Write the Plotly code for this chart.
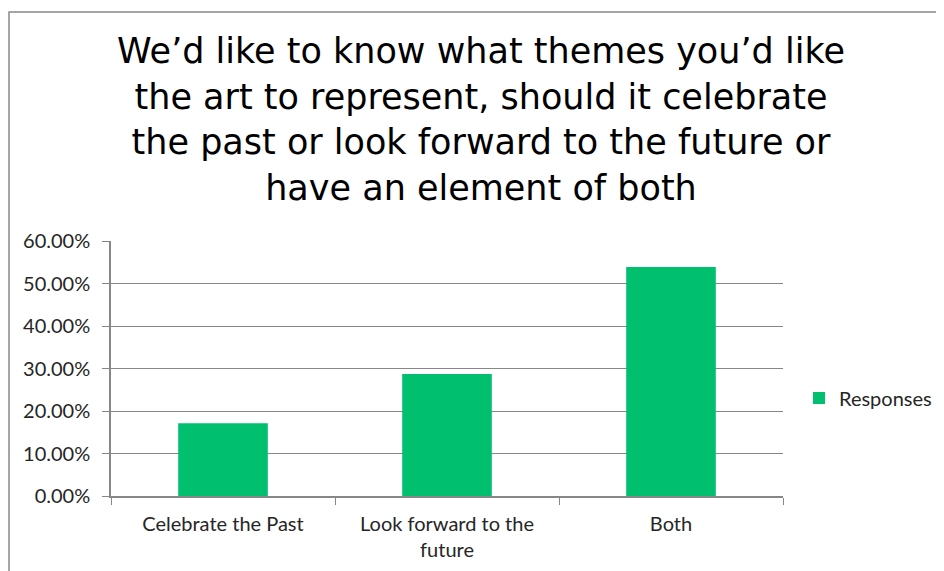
import plotly.graph_objects as go

categories = ["Celebrate the Past", "Look forward to the future", "Both"]
tick_labels = ["Celebrate the Past", "Look forward to the<br>future", "Both"]
responses = [0.171, 0.287, 0.539]
y_ticks = [0.0, 0.1, 0.2, 0.3, 0.4, 0.5, 0.6]
y_tick_labels = ["0.00%", "10.00%", "20.00%", "30.00%", "40.00%", "50.00%", "60.00%"]
series_name = "Responses"
title_text = ("We\u2019d like to know what themes you\u2019d like<br>the art to represent, should it celebrate"
              "<br>the past or look forward to the future or<br>have an element of both")

W, H = 944, 571
OFF = 8  # page body margin
# plot area in screen pixels
SX0, SX1, SY0, SY1 = 111, 783, 241, 496
L = SX0 - OFF
R = W - (SX1 - OFF)
T = SY0 - OFF
B = H - (SY1 - OFF)
pw, ph = SX1 - SX0, SY1 - SY0

def px_x(sx):
    return (sx - SX0) / pw

def px_y(sy):
    return (SY1 - sy) / ph

label_font = dict(family="Lato, 'Open Sans', sans-serif", size=20, color="#262626")

fig = go.Figure()
fig.add_trace(go.Bar(
    x=categories, y=responses, name=series_name,
    marker=dict(color="#00BF6F", line=dict(width=0)),
    showlegend=True,
))

fig.update_layout(
    width=W, height=H,
    margin=dict(l=L, r=R, t=T, b=B),
    paper_bgcolor="white", plot_bgcolor="white",
    bargap=0.6,
    title=dict(text=title_text, x=(481 - OFF) / W, xanchor="center", y=1 - 55 / H, yanchor="top",
               font=dict(family="DejaVu Sans, sans-serif", size=35, color="black")),
    xaxis=dict(
        tickmode="array", tickvals=categories, ticktext=tick_labels,
        tickfont=label_font, showline=True, linecolor="#878787", linewidth=1.5,
        ticks="outside", tickson="boundaries", ticklen=7, tickcolor="#878787",
        showgrid=False, ticklabelstandoff=9,
    ),
    yaxis=dict(
        range=[0, 0.6], tickvals=y_ticks, ticktext=y_tick_labels,
        tickfont=label_font, showline=True, linecolor="#878787", linewidth=1.5,
        ticks="outside", ticklen=7, tickcolor="#878787", ticklabelstandoff=8,
        showgrid=True, gridcolor="#878787", gridwidth=1, zeroline=False,
    ),
    legend=dict(x=px_x(799), xanchor="left", y=px_y(398), yanchor="middle",
                font=label_font, bgcolor="rgba(0,0,0,0)"),
    shapes=[dict(type="rect", xref="paper", yref="paper",
                 x0=px_x(9), x1=px_x(970), y0=px_y(600), y1=px_y(12),
                 line=dict(color="#888888", width=1.5), fillcolor="rgba(0,0,0,0)", layer="below")],
)

fig.write_html("out.html")
